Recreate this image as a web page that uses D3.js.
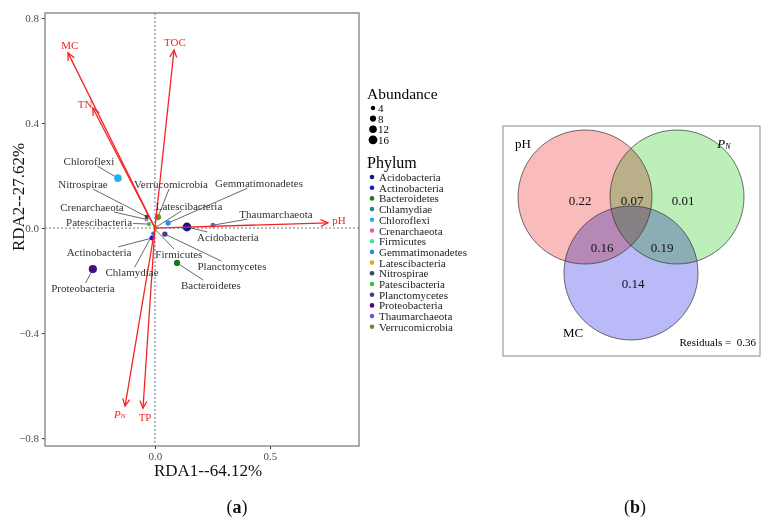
<!DOCTYPE html>
<html>
<head>
<meta charset="utf-8">
<script src="https://cdn.jsdelivr.net/npm/d3@7"></script>
<style>
  body { margin: 0; background: #fff; }
  text { font-family: "Liberation Serif", "Times New Roman", serif; }
</style>
</head>
<body>
<svg width="772" height="522"></svg>
<script>
// phylum scores (RDA1, RDA2) and mean abundance
var phyla = ["Acidobacteria", "Actinobacteria", "Bacteroidetes", "Chlamydiae", "Chloroflexi",
  "Crenarchaeota", "Firmicutes", "Gemmatimonadetes", "Latescibacteria", "Nitrospirae",
  "Patescibacteria", "Planctomycetes", "Proteobacteria", "Thaumarchaeota", "Verrucomicrobia"];
var phylumColors = ["#16168a", "#1515e6", "#167a16", "#2a8585", "#1eb4ef",
  "#e85cb2", "#3de89a", "#2a8ee8", "#f0a020", "#2f4f4f",
  "#34cc34", "#463c8c", "#4b0a85", "#6a5acd", "#6b8e23"];
var rda1 = [0.139, -0.013, 0.096, -0.008, -0.161, -0.037, 0.002, 0.057, 0.006, -0.035, -0.026, 0.043, -0.270, 0.252, 0.013];
var rda2 = [0.004, -0.038, -0.133, -0.020, 0.190, 0.033, -0.006, 0.019, 0.004, 0.043, 0.015, -0.023, -0.156, 0.011, 0.042];
var abundance = [16, 5, 8, 3, 12, 3, 3, 6, 3, 4, 4, 6, 14, 5, 8];
// repelled label anchors, in RDA units
var labelX = [0.317, -0.243, 0.243, -0.100, -0.287, -0.274, 0.104, 0.452, 0.148, -0.313, -0.243, 0.335, -0.313, 0.526, 0.070];
var labelY = [-0.034, -0.091, -0.217, -0.168, 0.255, 0.080, -0.099, 0.171, 0.084, 0.168, 0.023, -0.145, -0.229, 0.053, 0.168];

// environmental vectors
var envVars = ["MC", "TOC", "TN", "pH", "PN", "TP"];
var envRda1 = [-0.378, 0.083, -0.270, 0.752, -0.130, -0.052];
var envRda2 = [0.667, 0.678, 0.457, 0.020, -0.678, -0.686];
var envLabelX = [-0.370, 0.087, -0.304, 0.800, -0.152, -0.043];
var envLabelY = [0.697, 0.709, 0.472, 0.030, -0.709, -0.720];

var xTicks = [0, 0.5];
var yTicks = [-0.8, -0.4, 0, 0.4, 0.8];
var abundanceTicks = [4, 8, 12, 16];

// variation partitioning
var vennSets = ["pH", "PN", "MC"];
var vennColors = ["#fabbbb", "#bdefb9", "#babaf9"];
var vennRegions = ["pH", "pH&PN", "PN", "pH&MC", "PN&MC", "MC"];
var vennValues = [0.22, 0.07, 0.01, 0.16, 0.19, 0.14];
var residuals = 0.36;

var svg = d3.select("svg");
svg.append("rect").attr("width", 772).attr("height", 522).attr("fill", "#fff");

var margin = {left: 45, right: 413, top: 13, bottom: 76},
    width = 772 - margin.left - margin.right,
    height = 522 - margin.top - margin.bottom;

var x = d3.scaleLinear().domain([-0.478, 0.887]).range([margin.left, margin.left + width]);
var y = d3.scaleLinear().domain([-0.83, 0.819]).range([margin.top + height, margin.top]);

// zero lines
svg.append("line")
  .attr("x1", x(0)).attr("x2", x(0)).attr("y1", y.range()[1]).attr("y2", y.range()[0])
  .attr("stroke", "#3b4f7a").attr("stroke-width", 0.8).attr("stroke-dasharray", "2,2");
svg.append("line")
  .attr("x1", x.range()[0]).attr("x2", x.range()[1]).attr("y1", y(0)).attr("y2", y(0))
  .attr("stroke", "#555").attr("stroke-width", 0.8).attr("stroke-dasharray", "2,2");

// axes
var axisLeft = svg.append("g")
  .attr("transform", "translate(" + margin.left + ",0)")
  .call(d3.axisLeft(y).tickValues(yTicks).tickSize(3).tickFormat(function (d) {
    return d3.format(".1f")(d).replace("-", "\u2212");
  }));
var axisBottom = svg.append("g")
  .attr("transform", "translate(0," + (margin.top + height) + ")")
  .call(d3.axisBottom(x).tickValues(xTicks).tickSize(3).tickFormat(d3.format(".1f")));
[axisLeft, axisBottom].forEach(function (a) {
  a.select(".domain").remove();
  a.selectAll(".tick line").attr("stroke", "#333");
  a.selectAll(".tick text").attr("fill", "#4d4d4d")
    .style("font-family", "Liberation Serif, serif").style("font-size", "11px");
});

var pts = phyla.map(function (p, i) {
  return {name: p, color: phylumColors[i], x: rda1[i], y: rda2[i], ab: abundance[i], lx: labelX[i], ly: labelY[i]};
});
var r = d3.scaleSqrt().domain([0, 16]).range([0, 4.4]);

// labels first (to measure), leaders drawn under them
var leaderG = svg.append("g");
var pointG = svg.append("g");
var arrowG = svg.append("g");
var labelG = svg.append("g");

labelG.selectAll("text").data(pts).enter().append("text")
  .attr("x", function (d) { return x(d.lx); })
  .attr("y", function (d) { return y(d.ly); })
  .attr("text-anchor", "middle").attr("dominant-baseline", "central")
  .attr("font-size", 11).attr("fill", "#333")
  .text(function (d) { return d.name; })
  .each(function (d) {
    var b = this.getBBox();
    var cx = b.x + b.width / 2, cy = b.y + b.height / 2;
    var px = x(d.x), py = y(d.y);
    var dx = px - cx, dy = py - cy;
    var hw = b.width / 2 + 1, hh = b.height / 2 - 1;
    var t = Math.min(dx ? hw / Math.abs(dx) : Infinity, dy ? hh / Math.abs(dy) : Infinity);
    if (t >= 1) return;
    leaderG.append("line")
      .attr("x1", cx + dx * t).attr("y1", cy + dy * t)
      .attr("x2", px).attr("y2", py)
      .attr("stroke", "#444").attr("stroke-width", 0.8);
  });

pointG.selectAll("circle").data(pts).enter().append("circle")
  .attr("cx", function (d) { return x(d.x); })
  .attr("cy", function (d) { return y(d.y); })
  .attr("r", function (d) { return r(d.ab); })
  .attr("fill", function (d) { return d.color; });

// arrows
var red = "#f42424";
envVars.forEach(function (v, i) {
  var x0 = x(0), y0 = y(0), x1 = x(envRda1[i]), y1 = y(envRda2[i]);
  var ang = Math.atan2(y1 - y0, x1 - x0), len = 8, spread = Math.PI / 7;
  arrowG.append("line").attr("x1", x0).attr("y1", y0).attr("x2", x1).attr("y2", y1)
    .attr("stroke", red).attr("stroke-width", 1.3);
  arrowG.append("path")
    .attr("d", "M" + (x1 - len * Math.cos(ang - spread)) + "," + (y1 - len * Math.sin(ang - spread)) +
      "L" + x1 + "," + y1 +
      "L" + (x1 - len * Math.cos(ang + spread)) + "," + (y1 - len * Math.sin(ang + spread)))
    .attr("fill", "none").attr("stroke", red).attr("stroke-width", 1.3);
  var t = arrowG.append("text")
    .attr("x", x(envLabelX[i])).attr("y", y(envLabelY[i]))
    .attr("text-anchor", "middle").attr("dominant-baseline", "central")
    .attr("font-size", 11).attr("fill", red);
  if (v === "PN") {
    t.append("tspan").attr("font-style", "italic").text("P");
    t.append("tspan").attr("font-size", 7).attr("dy", 2).text("N");
  } else {
    t.text(v);
  }
});

// panel border
svg.append("rect")
  .attr("x", margin.left).attr("y", margin.top).attr("width", width).attr("height", height)
  .attr("fill", "none").attr("stroke", "#7f7f7f").attr("stroke-width", 1.3);

// axis titles
svg.append("text").attr("x", x.range()[0] + width / 2 + 6).attr("y", 476)
  .attr("text-anchor", "middle").attr("font-size", 17).attr("fill", "#111").text("RDA1--64.12%");
svg.append("text").attr("transform", "translate(24,197) rotate(-90)")
  .attr("text-anchor", "middle").attr("font-size", 17).attr("fill", "#111").text("RDA2--27.62%");

// legends
var leg = svg.append("g").attr("transform", "translate(367,0)");
leg.append("text").attr("x", 0).attr("y", 99).attr("font-size", 15.5).text("Abundance");
abundanceTicks.forEach(function (a, i) {
  var yy = 108 + i * 10.6;
  leg.append("circle").attr("cx", 6).attr("cy", yy).attr("r", r(a)).attr("fill", "#000");
  leg.append("text").attr("x", 11).attr("y", yy + 4).attr("font-size", 11).text(a);
});
leg.append("text").attr("x", 0).attr("y", 168).attr("font-size", 16).text("Phylum");
pts.forEach(function (d, i) {
  var yy = 177 + i * 10.7;
  leg.append("circle").attr("cx", 5).attr("cy", yy).attr("r", 2.3).attr("fill", d.color);
  leg.append("text").attr("x", 12).attr("y", yy).attr("dominant-baseline", "central")
    .attr("font-size", 11).attr("fill", "#222").text(d.name);
});

// panel (b): Venn
var venn = svg.append("g");
venn.append("rect").attr("x", 503).attr("y", 126).attr("width", 257).attr("height", 230)
  .attr("fill", "#fff").attr("stroke", "#999").attr("stroke-width", 1.2);
var vc = {x: 631, y: 197, dx: 46, dy: 76, r: 67};
var centers = [
  {x: vc.x - vc.dx, y: vc.y},
  {x: vc.x + vc.dx, y: vc.y},
  {x: vc.x, y: vc.y + vc.dy}
];
var circG = venn.append("g").style("isolation", "isolate");
circG.selectAll("circle").data(vennSets).enter().append("circle")
  .attr("cx", function (d, i) { return centers[i].x; })
  .attr("cy", function (d, i) { return centers[i].y; })
  .attr("r", vc.r)
  .attr("fill", function (d, i) { return vennColors[i]; })
  .style("mix-blend-mode", "multiply");
circG.selectAll("circle.o").data(vennSets).enter().append("circle")
  .attr("cx", function (d, i) { return centers[i].x; })
  .attr("cy", function (d, i) { return centers[i].y; })
  .attr("r", vc.r).attr("fill", "none").attr("stroke", "#333").attr("stroke-width", 0.7);

// where each region's number sits, relative to the layout centre
var regionOffset = {
  "pH": [-51, 3], "pH&PN": [1, 3], "PN": [52, 3],
  "pH&MC": [-29, 50], "PN&MC": [31, 50], "MC": [2, 86]
};
vennRegions.forEach(function (k, i) {
  venn.append("text").attr("x", vc.x + regionOffset[k][0]).attr("y", vc.y + regionOffset[k][1])
    .attr("text-anchor", "middle").attr("dominant-baseline", "central")
    .attr("font-size", 13).attr("fill", "#111").text(d3.format(".2f")(vennValues[i]));
});
venn.append("text").attr("x", 523).attr("y", 143).attr("text-anchor", "middle")
  .attr("dominant-baseline", "central").attr("font-size", 13).text("pH");
var pn = venn.append("text").attr("x", 724).attr("y", 143).attr("text-anchor", "middle")
  .attr("dominant-baseline", "central").attr("font-size", 13);
pn.append("tspan").attr("font-style", "italic").text("P");
pn.append("tspan").attr("font-style", "italic").attr("font-size", 8).attr("dy", 3).text("N");
venn.append("text").attr("x", 573).attr("y", 332).attr("text-anchor", "middle")
  .attr("dominant-baseline", "central").attr("font-size", 13).text("MC");
venn.append("text").attr("x", 756).attr("y", 342).attr("text-anchor", "end")
  .attr("dominant-baseline", "central").attr("font-size", 11)
  .text("Residuals =\u00a0 " + residuals);

// captions
[["a", 237], ["b", 635]].forEach(function (c) {
  var t = svg.append("text").attr("x", c[1]).attr("y", 507).attr("text-anchor", "middle")
    .attr("dominant-baseline", "central").attr("font-size", 18).attr("fill", "#111");
  t.append("tspan").text("(");
  t.append("tspan").attr("font-weight", "bold").text(c[0]);
  t.append("tspan").text(")");
});
</script>
</body>
</html>
